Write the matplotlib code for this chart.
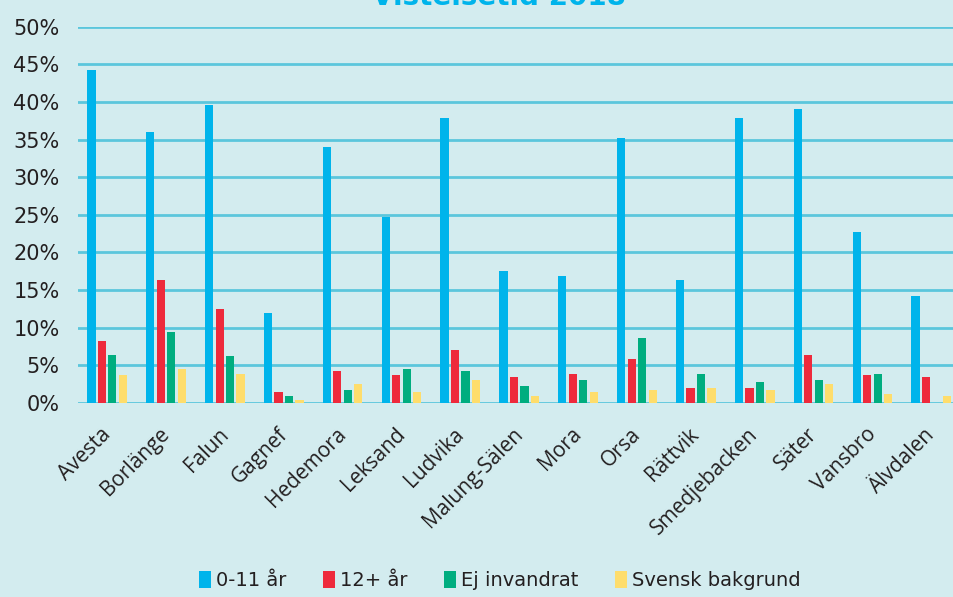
import matplotlib.pyplot as plt
import numpy as np

kommuner = ["Avesta", "Borlänge", "Falun", "Gagnef", "Hedemora", "Leksand",
            "Ludvika", "Malung-Sälen", "Mora", "Orsa", "Rättvik",
            "Smedjebacken", "Säter", "Vansbro", "Älvdalen"]

# andel i procent per kommun
ar_0_11 = [44.3, 36.0, 39.6, 12.0, 34.0, 24.7, 37.9, 17.5, 16.9, 35.2,
           16.4, 37.9, 39.0, 22.7, 14.2]
ar_12_plus = [8.3, 16.4, 12.5, 1.5, 4.2, 3.7, 7.0, 3.4, 3.9, 5.9,
              2.0, 2.0, 6.4, 3.7, 3.4]
ej_invandrat = [6.4, 9.5, 6.2, 0.9, 1.7, 4.5, 4.2, 2.3, 3.1, 8.6,
                3.9, 2.8, 3.1, 3.9, 0.0]
svensk_bakgrund = [3.7, 4.5, 3.9, 0.4, 2.5, 1.5, 3.1, 0.9, 1.5, 1.7,
                   2.0, 1.7, 2.5, 1.2, 0.9]

serier = [("0-11 år", ar_0_11, "#00b4eb"),
          ("12+ år", ar_12_plus, "#ee2a3c"),
          ("Ej invandrat", ej_invandrat, "#00ad7f"),
          ("Svensk bakgrund", svensk_bakgrund, "#fedd6c")]

bg = "#d3ecef"
grid = "#5bc6dc"

fig = plt.figure(figsize=(9.54, 5.97), dpi=100, facecolor=bg)
ax = fig.add_axes([77.7 / 954, 1 - 403 / 597, 883 / 954, 376.3 / 597])
ax.set_facecolor(bg)

x = np.arange(len(kommuner))
step = 0.178
width = 0.14
for i, (namn, vals, col) in enumerate(serier):
    ax.bar(x + (i - 1.5) * step, vals, width, color=col, label=namn,
           zorder=3)

ax.set_xlim(-0.5, len(kommuner) - 0.5)
ax.set_ylim(0, 50)
ax.set_yticks(np.arange(0, 51, 5))
ax.set_yticklabels([f"{v}%" for v in range(0, 51, 5)],
                   fontsize=15, color="#231f20")
ax.yaxis.grid(True, color=grid, linewidth=2, zorder=0)
ax.tick_params(axis="both", length=0)
ax.tick_params(axis="y", pad=13)
for s in ax.spines.values():
    s.set_visible(False)

ax.set_xticks(x - 0.12)
ax.set_xticklabels(kommuner, rotation=45, ha="right",
                   rotation_mode="anchor", fontsize=15,
                   family="Open Sans", color="#231f20")
ax.tick_params(axis="x", pad=15)

# titeln sitter delvis ovanför bildkanten
fig.text(0.523, 1.0 - 5 / 597, "Vistelsetid 2018", ha="center",
         va="baseline", fontsize=20, fontweight="bold", color="#00b4eb")

leg = fig.legend(loc="lower center", bbox_to_anchor=(0.524, -0.018),
                 ncol=4, frameon=False, fontsize=14, handlelength=0.6,
                 handleheight=0.9, handletextpad=0.25, columnspacing=1.9)
for t in leg.get_texts():
    t.set_color("#231f20")

fig.savefig("out.png", dpi=100, facecolor=bg)
